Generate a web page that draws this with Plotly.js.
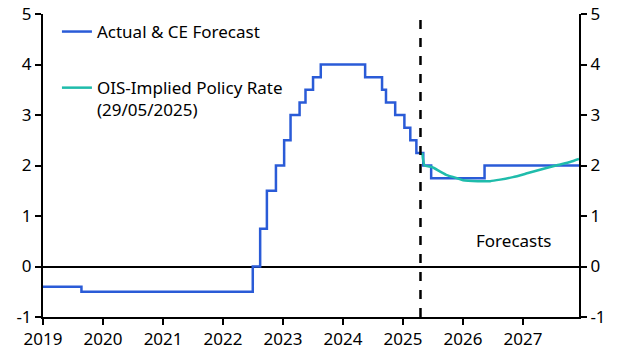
<!DOCTYPE html>
<html>
<head>
<meta charset="utf-8">
<script src="https://cdn.plot.ly/plotly-3.0.1.min.js"></script>
<style>html,body{margin:0;padding:0;background:#fff;}#chart{width:620px;height:354px;}</style>
</head>
<body>
<div id="chart"></div>
<script>
// Actual & CE forecast policy rate (step changes)
const policyDates = ["2019-01-01","2019-08-23","2022-07-01","2022-08-15","2022-09-25","2022-11-19",
  "2023-01-08","2023-02-16","2023-04-12","2023-05-18","2023-07-03","2023-08-19",
  "2024-05-15","2024-08-26","2024-09-19","2024-11-14","2025-01-09","2025-02-14","2025-03-23",
  "2025-05-04","2025-06-21","2026-05-12","2027-12-08"];
const policyRates = [-0.40,-0.50,0.00,0.75,1.50,2.00,
  2.50,3.00,3.25,3.50,3.75,4.00,
  3.75,3.50,3.25,3.00,2.75,2.50,2.25,
  2.00,1.75,2.00,2.00];

// OIS-implied policy rate (29/05/2025)
const oisDates = ["2025-04-28","2025-05-12","2025-06-25","2025-08-15","2025-09-25","2025-11-15",
  "2026-01-01","2026-04-01","2026-06-15","2026-08-15","2026-11-01","2027-02-01",
  "2027-05-01","2027-08-01","2027-10-15","2027-12-08"];
const oisRates = [2.25,2.00,1.97,1.88,1.81,1.76,
  1.71,1.69,1.69,1.72,1.77,1.85,
  1.93,2.01,2.07,2.13];

const forecastStart = "2025-04-17";
const xRange = ["2019-01-01","2027-12-08"];
const yTicks = [-1,0,1,2,3,4,5];
const yearTicks = ["2019-01-01","2020-01-01","2021-01-01","2022-01-01","2023-01-01","2024-01-01","2025-01-01","2026-01-01","2027-01-01"];
const yearLabels = ["2019","2020","2021","2022","2023","2024","2025","2026","2027"];

const FONT = "Noto Sans, Open Sans, sans-serif";
const FS = 17;
const BLUE = "#2a5bd7";
const TEAL = "#1fbcab";

const traces = [
  {x: policyDates, y: policyRates, type: "scatter", mode: "lines", line: {shape: "hv", color: BLUE, width: 2.5},
   name: "Actual & CE Forecast", legendgroup: "a"},
  {x: oisDates, y: oisRates, type: "scatter", mode: "lines", line: {shape: "spline", smoothing: 0.6, color: TEAL, width: 2.5},
   name: "OIS-Implied Policy Rate<br>(29/05/2025)", legendgroup: "b", yaxis: "y2"}
];

const axisCommon = {
  range: [-1, 5], tickvals: yTicks, ticktext: yTicks.map(String), showgrid: false,
  showline: true, linecolor: "#000", linewidth: 2, ticks: "outside", ticklen: 6, tickwidth: 2, tickcolor: "#000",
  tickfont: {family: FONT, size: FS, color: "#000"}, fixedrange: true, automargin: false
};

const layout = {
  width: 620, height: 354,
  margin: {l: 43, r: 41, t: 14, b: 37},
  paper_bgcolor: "#fff", plot_bgcolor: "#fff",
  font: {family: FONT, size: FS, color: "#000"},
  showlegend: true,
  legend: {x: 0.026, y: 1.0, xanchor: "left", yanchor: "top", traceorder: "grouped", tracegroupgap: 31,
           valign: "top", bgcolor: "rgba(0,0,0,0)", font: {family: FONT, size: FS, color: "#000"}},
  xaxis: {type: "date", range: xRange, tickvals: yearTicks, ticktext: yearLabels, showgrid: false,
          showline: true, linecolor: "#000", linewidth: 2, ticks: "outside", ticklen: 6, tickwidth: 2, tickcolor: "#000",
          tickfont: {family: FONT, size: FS, color: "#000"}, zeroline: false, automargin: false},
  yaxis: Object.assign({}, axisCommon, {side: "left", zeroline: true, zerolinecolor: "#000", zerolinewidth: 2}),
  yaxis2: Object.assign({}, axisCommon, {side: "right", overlaying: "y", zeroline: false}),
  shapes: [
    {type: "line", xref: "x", yref: "y", x0: forecastStart, x1: forecastStart, y0: -1, y1: 5,
     line: {color: "#000", width: 2.5, dash: "dash"}}
  ],
  annotations: [
    {xref: "x", yref: "y", x: "2026-11-10", y: 0.52, text: "Forecasts", showarrow: false,
     font: {family: FONT, size: FS, color: "#000"}}
  ]
};

Plotly.newPlot("chart", traces, layout, {staticPlot: true, displayModeBar: false});
</script>
</body>
</html>
